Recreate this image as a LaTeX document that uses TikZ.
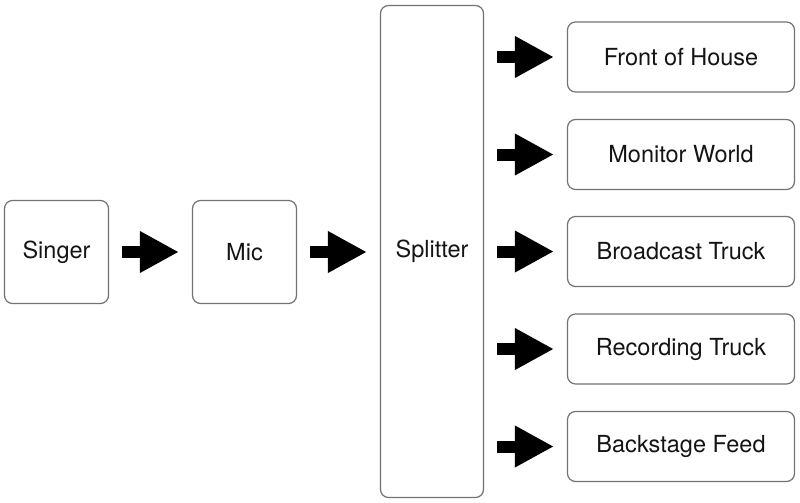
\documentclass[tikz,border=0pt]{standalone}
\usepackage{fontspec}
\setmainfont{TeX Gyre Heros}
\usetikzlibrary{arrows.meta,positioning}

\begin{document}
\begin{tikzpicture}[x=1pt, y=-1pt, line width=1.2pt,
    box/.style={draw=black!55, fill=white, rounded corners=8pt, inner sep=0pt,
      text=black!92, font=\fontsize{23.5}{28}\selectfont},
    srcbox/.style={box, minimum width=104pt, minimum height=103pt},
    outbox/.style={box, minimum width=227pt, minimum height=70pt},
    feed/.style={line width=12pt, -{Triangle[length=39pt, width=39pt]},
      shorten <=13pt, shorten >=13pt}]

    \useasboundingbox (0, 0) rectangle (800, 503);

    % source chain
    \node[srcbox] (singer) at (56.5, 252) {Singer};
    \node[srcbox] (mic) at (244.5, 252) {Mic};
    \node[box, minimum width=103pt, minimum height=492pt] (splitter) at (432, 251.5) {Splitter};

    \draw[feed] (singer) -- (mic);
    \draw[feed] (mic) -- (splitter.west |- mic.east);

    % split outputs
    \foreach \name/\txt/\y in {foh/Front of House/57, mon/Monitor World/154.5,
        bcast/Broadcast Truck/251.5, rec/Recording Truck/349, back/Backstage Feed/446.5}
    {
      \node[outbox] (\name) at (681, \y) {\txt};
      \draw[feed] (splitter.east |- \name.west) -- (\name.west);
    }
\end{tikzpicture}
\end{document}
